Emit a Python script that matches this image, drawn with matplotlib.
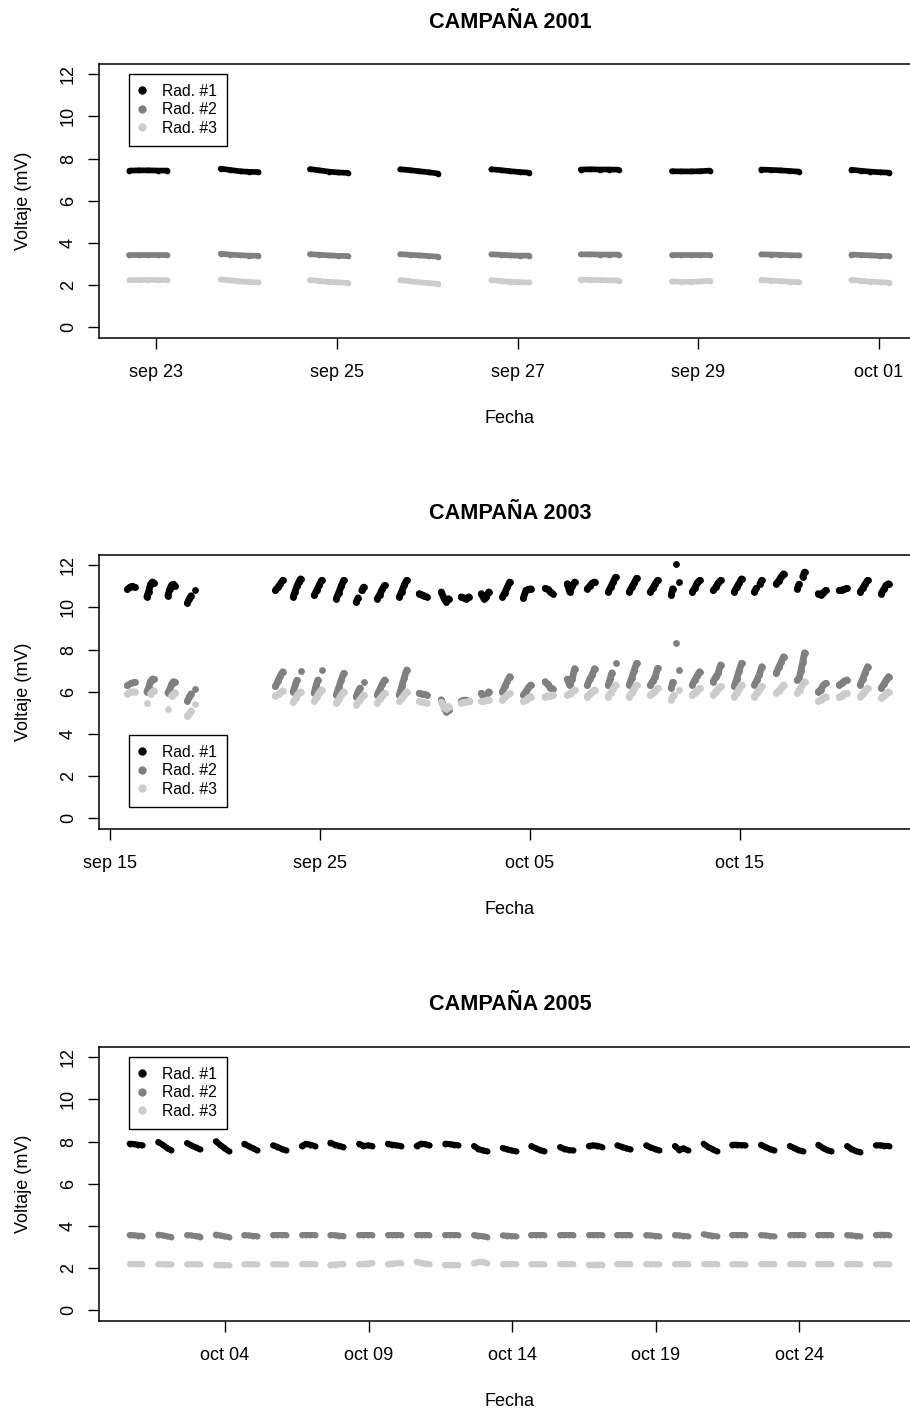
import numpy as np
import matplotlib
matplotlib.use('Agg')
import matplotlib.pyplot as plt
from matplotlib.lines import Line2D

plt.rcParams['font.family'] = ['Liberation Sans', 'DejaVu Sans']

nan = np.nan
colores = ['black', '#808080', '#cccccc']
etiquetas = ['Rad. #1', 'Rad. #2', 'Rad. #3']
yticks = [0, 2, 4, 6, 8, 10, 12]

# ---------------- CAMPAÑA 2001 (x = dia de septiembre) ----------------
dias_2001 = [22.91, 23.92, 24.91, 25.91, 26.92, 27.91, 28.92, 29.91, 30.91]
rad1_2001 = [
    [7.43, 7.44, 7.44, 7.43, 7.43],
    [7.52, 7.46, 7.40, 7.37, 7.36],
    [7.50, 7.44, 7.38, 7.34, 7.32],
    [7.49, 7.45, 7.40, 7.35, 7.29],
    [7.49, 7.45, 7.40, 7.36, 7.33],
    [7.48, 7.49, 7.48, 7.48, 7.47],
    [7.40, 7.39, 7.39, 7.40, 7.43],
    [7.48, 7.46, 7.44, 7.41, 7.38],
    [7.47, 7.42, 7.38, 7.35, 7.33],
]
rad2_2001 = [
    [3.44, 3.44, 3.44, 3.44, 3.44],
    [3.49, 3.45, 3.42, 3.40, 3.39],
    [3.47, 3.44, 3.41, 3.39, 3.38],
    [3.47, 3.44, 3.41, 3.38, 3.35],
    [3.46, 3.44, 3.41, 3.40, 3.40],
    [3.46, 3.46, 3.45, 3.45, 3.45],
    [3.42, 3.42, 3.42, 3.42, 3.42],
    [3.46, 3.45, 3.44, 3.42, 3.41],
    [3.45, 3.43, 3.41, 3.39, 3.38],
]
rad3_2001 = [
    [2.24, 2.24, 2.25, 2.24, 2.24],
    [2.27, 2.23, 2.18, 2.15, 2.13],
    [2.24, 2.20, 2.16, 2.13, 2.11],
    [2.24, 2.19, 2.14, 2.10, 2.06],
    [2.24, 2.20, 2.16, 2.14, 2.13],
    [2.26, 2.25, 2.24, 2.23, 2.22],
    [2.18, 2.16, 2.16, 2.18, 2.21],
    [2.25, 2.22, 2.19, 2.16, 2.14],
    [2.25, 2.21, 2.17, 2.14, 2.12],
]
ticks_2001 = [23, 25, 27, 29, 31]
etiq_2001 = ['sep 23', 'sep 25', 'sep 27', 'sep 29', 'oct 01']

# ---------------- CAMPAÑA 2003 (x = dias desde el 0 de septiembre) ----------------
dias_2003 = [16.0, 16.93, 17.93, 18.86,
             23.05, 23.9, 24.9, 25.95, 26.9, 27.9, 28.95, 29.9, 30.95, 31.9,
             32.86, 33.86, 34.86, 35.9, 36.95, 37.9, 38.9, 39.9, 40.9, 41.9,
             42.9, 43.9, 44.9, 45.86, 46.9, 47.9, 48.9, 49.9, 50.9, 51.9]
rad1_2003 = [
    [10.85, 10.95, 11.0, 10.95],
    [10.5, 10.75, 11.1, 11.2, 11.15],
    [10.55, 10.85, 11.05, 11.1, 11.0],
    [10.2, 10.4, 10.55, nan, 10.8],
    [10.8, 10.95, 11.1, 11.28],
    [10.5, 10.75, 11.0, 11.2, 11.35],
    [10.57, 10.8, 11.05, 11.28],
    [10.41, 10.7, 11.0, 11.28],
    [10.25, 10.45, nan, 10.8, 10.96],
    [10.41, 10.6, 10.85, 11.04],
    [10.49, 10.75, 11.05, 11.28],
    [10.65, 10.6, 10.55, 10.5],
    [10.73, 10.45, 10.25, 10.41],
    [10.5, 10.45, 10.4, 10.5],
    [10.65, 10.41, 10.5, 10.73],
    [10.49, 10.7, 10.95, 11.2],
    [10.44, 10.8, 10.85, 10.88],
    [10.9, 10.85, 10.75, 10.65],
    [11.12, 10.73, 11.0, 11.2],
    [10.88, 11.0, 11.15, 11.2],
    [10.73, 10.95, 11.2, 11.43],
    [10.73, 10.95, 11.15, 11.38],
    [10.73, 10.9, 11.1, 11.28],
    [10.57, 10.88, nan, 12.03, nan, 11.2],
    [10.73, 10.9, 11.15, 11.28],
    [10.8, 10.95, 11.15, 11.28],
    [10.73, 10.95, 11.15, 11.35],
    [10.73, 10.9, nan, 11.1, 11.28],
    [11.12, 11.25, 11.45, 11.59],
    [10.88, 11.1, nan, 11.45, 11.67],
    [10.65, 10.6, 10.7, 10.8],
    [10.8, 10.82, 10.85, 10.9],
    [10.73, 10.9, 11.1, 11.28],
    [10.65, 10.85, 11.05, 11.12],
]
rad2_2003 = [
    [6.3, 6.4, 6.45],
    [6.0, 6.2, 6.5, 6.6, 6.6],
    [5.95, 6.1, 6.35, 6.48, 6.45],
    [5.55, 5.75, 5.9, nan, 6.15],
    [6.25, 6.5, 6.75, 6.95],
    [6.0, 6.3, 6.55, nan, 7.0],
    [5.93, 6.3, 6.56, nan, 7.03],
    [5.85, 6.2, 6.55, 6.87],
    [5.77, 6.0, 6.17, nan, 6.48],
    [5.85, 6.1, 6.35, 6.56],
    [5.85, 6.25, 6.65, 7.03],
    [5.93, 5.9, 5.88, 5.85],
    [5.62, 5.3, 5.06, 5.15],
    [5.55, 5.6, 5.6, 5.55],
    [5.93, 5.7, 5.8, 6.0],
    [6.0, 6.25, 6.5, 6.72],
    [5.85, 6.0, 6.2, 6.32],
    [6.48, 6.35, 6.2, 6.15],
    [6.6, 6.3, 6.6, 7.1],
    [6.3, 6.6, 6.8, 7.1],
    [6.3, 6.6, 6.9, nan, 7.35],
    [6.32, 6.65, 7.0, 7.35],
    [6.3, 6.5, 6.7, 7.11],
    [6.17, 6.45, nan, 8.32, nan, 7.03],
    [6.32, 6.55, 6.75, 6.95],
    [6.48, 6.7, 6.87, 7.27],
    [6.25, 6.6, 7.0, 7.35],
    [6.32, 6.55, 6.8, 7.19],
    [6.87, 7.15, 7.4, 7.66],
    [6.56, 6.6, 7.0, 7.4, 7.85],
    [6.0, 6.1, 6.3, 6.4],
    [6.32, 6.4, 6.5, 6.56],
    [6.32, 6.6, 6.9, 7.19],
    [6.17, 6.35, 6.55, 6.72],
]
rad3_2003 = [
    [5.9, 6.0, 6.0],
    [5.45, nan, 5.9, 6.0, 6.05],
    [5.2, nan, 5.8, 5.9, 5.95],
    [4.85, 4.95, 5.1, nan, 5.4],
    [5.8, 5.9, 6.05],
    [5.5, 5.7, 5.9, 6.0],
    [5.54, 5.75, 5.95, 6.09],
    [5.46, 5.65, 5.85, 6.0],
    [5.38, 5.55, 5.7, 5.85],
    [5.46, 5.65, 5.8, 5.93],
    [5.54, 5.7, 5.85, 6.0],
    [5.54, 5.5, 5.5, 5.46],
    [5.5, 5.3, 5.2, 5.3],
    [5.46, 5.5, 5.5, 5.54],
    [5.54, 5.55, 5.6, 5.62],
    [5.62, 5.75, 5.85, 5.93],
    [5.54, 5.6, 5.7, 5.77],
    [5.77, 5.8, 5.8, 5.85],
    [5.85, 5.9, 6.0, 6.09],
    [5.77, 5.9, 6.0, 6.09],
    [5.77, 5.95, 6.15, 6.32],
    [5.77, 5.95, 6.15, 6.32],
    [5.85, 5.95, 6.05, 6.17],
    [5.62, 5.85, nan, 6.09],
    [5.85, 5.95, 6.05, 6.17],
    [5.85, 6.0, 6.15, 6.25],
    [5.77, 5.95, 6.15, 6.32],
    [5.77, 5.95, 6.1, 6.25],
    [5.93, 6.05, 6.2, 6.32],
    [5.93, 6.1, 6.3, 6.48],
    [5.54, 5.6, 5.7, 5.77],
    [5.77, 5.8, 5.9, 5.93],
    [5.77, 5.9, 6.05, 6.17],
    [5.7, 5.8, 5.9, 6.0],
]
ticks_2003 = [15, 25, 35, 45]
etiq_2003 = ['sep 15', 'sep 25', 'oct 05', 'oct 15']

# ---------------- CAMPAÑA 2005 (x = dias desde el 0 de septiembre) ----------------
dias_2005 = [30.9, 31.9, 32.9, 33.9, 34.9, 35.9, 36.9, 37.9, 38.9, 39.9,
             40.9, 41.9, 42.9, 43.9, 44.9, 45.9, 46.9, 47.9, 48.9, 49.9,
             50.9, 51.9, 52.9, 53.9, 54.9, 55.9, 56.9]
rad1_2005 = [
    [7.9, 7.88, 7.85, 7.82], [7.98, 7.85, 7.7, 7.58], [7.93, 7.82, 7.72, 7.63],
    [8.01, 7.85, 7.7, 7.54], [7.9, 7.78, 7.68, 7.58], [7.82, 7.75, 7.65, 7.58],
    [7.79, 7.9, 7.85, 7.79], [7.95, 7.85, 7.8, 7.74], [7.9, 7.79, 7.82, 7.79],
    [7.9, 7.85, 7.82, 7.79], [7.79, 7.9, 7.88, 7.82], [7.9, 7.88, 7.85, 7.82],
    [7.79, 7.65, 7.58, 7.54], [7.7, 7.63, 7.58, 7.54], [7.79, 7.68, 7.6, 7.54],
    [7.74, 7.65, 7.6, 7.58], [7.79, 7.82, 7.8, 7.74], [7.82, 7.75, 7.68, 7.63],
    [7.82, 7.72, 7.65, 7.58], [7.79, 7.6, 7.68, 7.58], [7.9, 7.75, 7.65, 7.54],
    [7.85, 7.85, 7.83, 7.82], [7.85, 7.75, 7.65, 7.58], [7.79, 7.7, 7.6, 7.54],
    [7.85, 7.7, 7.6, 7.54], [7.79, 7.65, 7.55, 7.5], [7.82, 7.82, 7.8, 7.79],
]
rad2_2005 = [
    [3.57, 3.56, 3.54, 3.53], [3.59, 3.55, 3.51, 3.48], [3.57, 3.55, 3.52, 3.50],
    [3.59, 3.55, 3.51, 3.48], [3.57, 3.55, 3.53, 3.51], [3.55, 3.55, 3.55, 3.55],
    [3.55, 3.55, 3.55, 3.55], [3.57, 3.56, 3.54, 3.52], [3.57, 3.57, 3.57, 3.57],
    [3.55, 3.55, 3.55, 3.55], [3.57, 3.57, 3.57, 3.57], [3.57, 3.57, 3.57, 3.57],
    [3.57, 3.54, 3.51, 3.48], [3.55, 3.54, 3.52, 3.51], [3.55, 3.55, 3.55, 3.55],
    [3.55, 3.55, 3.55, 3.55], [3.57, 3.57, 3.57, 3.57], [3.55, 3.55, 3.55, 3.55],
    [3.57, 3.55, 3.53, 3.51], [3.57, 3.55, 3.53, 3.51], [3.61, 3.57, 3.54, 3.51],
    [3.59, 3.59, 3.59, 3.59], [3.57, 3.55, 3.53, 3.51], [3.55, 3.55, 3.55, 3.55],
    [3.55, 3.55, 3.55, 3.55], [3.57, 3.55, 3.53, 3.51], [3.57, 3.58, 3.58, 3.57],
]
rad3_2005 = [
    [2.19, 2.19, 2.19, 2.19], [2.19, 2.19, 2.18, 2.18], [2.19, 2.19, 2.19, 2.18],
    [2.16, 2.16, 2.16, 2.16], [2.19, 2.19, 2.19, 2.18], [2.19, 2.19, 2.18, 2.18],
    [2.19, 2.19, 2.19, 2.19], [2.16, 2.17, 2.19, 2.20], [2.19, 2.20, 2.22, 2.24],
    [2.19, 2.22, 2.23, 2.24], [2.30, 2.26, 2.22, 2.19], [2.16, 2.16, 2.16, 2.16],
    [2.24, 2.29, 2.30, 2.24], [2.19, 2.19, 2.19, 2.19], [2.19, 2.19, 2.19, 2.18],
    [2.19, 2.19, 2.19, 2.19], [2.16, 2.16, 2.17, 2.17], [2.19, 2.19, 2.19, 2.19],
    [2.19, 2.19, 2.18, 2.18], [2.19, 2.19, 2.19, 2.19], [2.19, 2.19, 2.19, 2.19],
    [2.19, 2.19, 2.19, 2.18], [2.19, 2.19, 2.19, 2.19], [2.19, 2.19, 2.19, 2.19],
    [2.19, 2.19, 2.19, 2.19], [2.19, 2.19, 2.19, 2.19], [2.19, 2.19, 2.19, 2.18],
]
ticks_2005 = [34, 39, 44, 49, 54]
etiq_2005 = ['oct 04', 'oct 09', 'oct 14', 'oct 19', 'oct 24']

W, H = 910.0, 1411.0
fig = plt.figure(figsize=(W / 100, H / 100), dpi=100)


def panel(top, titulo, dias, ancho, series, ticks, etiq, xlim, grosor, ley_abajo):
    # caja de 822 x 273.5 px; el borde derecho queda fuera de la imagen
    ax = fig.add_axes([99 / W, (H - top - 273.5) / H, 822 / W, 273.5 / H])
    for vals, col in zip(series, colores):
        for d, v in zip(dias, vals):
            x = np.linspace(d - ancho / 2, d + ancho / 2, len(v))
            ax.plot(x, v, color=col, lw=grosor, marker='o', ms=grosor, mew=0,
                    solid_capstyle='round', solid_joinstyle='round')
    ax.set_xlim(*xlim)
    ax.set_ylim(-0.48, 12.48)
    ax.set_yticks(yticks)
    ax.set_yticklabels([str(t) for t in yticks], rotation=90, va='center')
    ax.set_xticks(ticks)
    ax.set_xticklabels(etiq)
    ax.tick_params(direction='out', length=8, width=1.0, labelsize=13)
    ax.tick_params(axis='x', pad=11)
    ax.tick_params(axis='y', pad=8)
    for s in ax.spines.values():
        s.set_linewidth(1.1)
    ax.text(0.5, 1 + 42 / 273.5, titulo, transform=ax.transAxes, ha='center',
            va='center', fontsize=15.6, fontweight='bold')
    ax.text(0.5, -81 / 273.5, 'Fecha', transform=ax.transAxes, ha='center',
            va='center', fontsize=13)
    ax.text(-75 / 822, 0.5, 'Voltaje (mV)', transform=ax.transAxes, ha='center',
            va='center', rotation=90, fontsize=13)
    manejadores = [Line2D([], [], ls='', marker='o', color=c, ms=6.0, mew=0)
                   for c in colores]
    if ley_abajo:
        ley = ax.legend(manejadores, etiquetas, loc='lower left',
                        bbox_to_anchor=(30 / 822, 22 / 273.5))
    else:
        ley = ax.legend(manejadores, etiquetas, loc='upper left',
                        bbox_to_anchor=(30 / 822, 1 - 10 / 273.5))
    ley.get_frame().set_edgecolor('black')
    ley.get_frame().set_linewidth(1.0)
    ley.get_frame().set_boxstyle('square', pad=0)
    return ax


plt.rcParams.update({'legend.fontsize': 11.3, 'legend.framealpha': 1,
                     'legend.fancybox': False, 'legend.borderaxespad': 0,
                     'legend.borderpad': 0.62, 'legend.labelspacing': 0.23,
                     'legend.handlelength': 0.46, 'legend.handletextpad': 1.05})

panel(64, 'CAMPAÑA 2001', dias_2001, 0.42, [rad1_2001, rad2_2001, rad3_2001],
      ticks_2001, etiq_2001, (22.363, 31.47), 4.1, False)
panel(555, 'CAMPAÑA 2003', dias_2003, 0.35, [rad1_2003, rad2_2003, rad3_2003],
      ticks_2003, etiq_2003, (14.476, 53.62), 4.9, True)
panel(1047, 'CAMPAÑA 2005', dias_2005, 0.45, [rad1_2005, rad2_2005, rad3_2005],
      ticks_2005, etiq_2005, (29.61, 58.25), 4.3, False)

fig.savefig('out.png', dpi=100)
